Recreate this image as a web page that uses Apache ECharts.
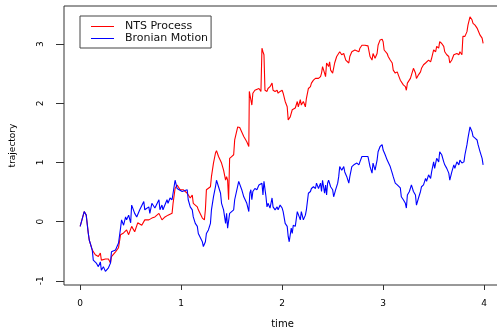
<!DOCTYPE html>
<html>
<head>
<meta charset="utf-8">
<script src="https://cdn.jsdelivr.net/npm/echarts@6/dist/echarts.min.js"></script>
<style>
  html, body { margin: 0; padding: 0; background: #fff; }
  #chart { width: 497px; height: 327px; }
</style>
</head>
<body>
<div id="chart"></div>
<script>
// sample paths, [time, value]
const ntsPoints = [
  [0, -0.08], [0.04, 0.17], [0.06, 0.11], [0.08, -0.19], [0.09, -0.31], [0.12, -0.48],
  [0.15, -0.56], [0.18, -0.59], [0.2, -0.53], [0.21, -0.65], [0.25, -0.63], [0.28, -0.63],
  [0.3, -0.7], [0.31, -0.59], [0.35, -0.51], [0.38, -0.44], [0.4, -0.22], [0.43, -0.19],
  [0.46, -0.14], [0.48, -0.22], [0.51, -0.08], [0.54, -0.17], [0.57, -0.02], [0.61, -0.06],
  [0.64, 0.03], [0.68, 0.03], [0.71, 0.06], [0.74, 0.08], [0.78, 0.14], [0.81, 0.03],
  [0.84, 0.08], [0.87, 0.11], [0.91, 0.14], [0.92, 0.31], [0.94, 0.56], [0.96, 0.62],
  [0.99, 0.54], [1.02, 0.54], [1.06, 0.48], [1.09, 0.4], [1.11, 0.45], [1.12, 0.31],
  [1.16, 0.25], [1.17, 0.2], [1.21, 0.06], [1.23, 0.03], [1.24, 0.2], [1.25, 0.54],
  [1.29, 0.59], [1.3, 0.76], [1.32, 0.99], [1.34, 1.16], [1.35, 1.2], [1.37, 1.1],
  [1.4, 0.99], [1.42, 0.87], [1.44, 0.7], [1.45, 0.76], [1.46, 0.7], [1.47, 0.37],
  [1.48, 1.07], [1.5, 1.1], [1.52, 1.13], [1.53, 1.38], [1.56, 1.6], [1.58, 1.59],
  [1.62, 1.44], [1.65, 1.35], [1.67, 1.27], [1.675, 2.2], [1.68, 2.17], [1.7, 1.97],
  [1.71, 2.17], [1.73, 2.22], [1.77, 2.25], [1.78, 2.28], [1.79, 2.2], [1.8, 2.93],
  [1.81, 2.87], [1.82, 2.82], [1.83, 2.22], [1.85, 2.2], [1.86, 2.25], [1.88, 2.28],
  [1.9, 2.34], [1.91, 2.22], [1.93, 2.2], [1.95, 2.22], [1.96, 2.17], [1.98, 2.2],
  [2.0, 2.22], [2.01, 2.17], [2.03, 2.03], [2.05, 1.94], [2.06, 1.72], [2.08, 1.77],
  [2.1, 1.89], [2.11, 1.86], [2.13, 1.92], [2.15, 2.03], [2.16, 1.94], [2.18, 2.06],
  [2.19, 1.97], [2.21, 2.03], [2.23, 1.94], [2.24, 2.08], [2.26, 2.25], [2.28, 2.28],
  [2.29, 2.34], [2.31, 2.39], [2.33, 2.42], [2.34, 2.45], [2.36, 2.42], [2.38, 2.45],
  [2.39, 2.51], [2.4, 2.62], [2.42, 2.51], [2.43, 2.45], [2.44, 2.68], [2.46, 2.62],
  [2.47, 2.7], [2.48, 2.56], [2.5, 2.51], [2.52, 2.68], [2.54, 2.79], [2.57, 2.87],
  [2.59, 2.82], [2.61, 2.84], [2.63, 2.73], [2.66, 2.68], [2.67, 2.79], [2.69, 2.87],
  [2.72, 2.9], [2.76, 2.87], [2.77, 2.93], [2.79, 2.98], [2.82, 2.98], [2.85, 2.97],
  [2.87, 2.79], [2.89, 2.73], [2.9, 2.84], [2.92, 2.76], [2.94, 2.84], [2.95, 2.98],
  [2.97, 3.07], [2.99, 3.08], [3.0, 3.04], [3.01, 2.9], [3.04, 2.84], [3.05, 2.79],
  [3.07, 2.73], [3.09, 2.68], [3.1, 2.56], [3.12, 2.51], [3.14, 2.53], [3.15, 2.48],
  [3.17, 2.39], [3.18, 2.42], [3.2, 2.31], [3.22, 2.28], [3.23, 2.22], [3.24, 2.34],
  [3.25, 2.31], [3.27, 2.42], [3.28, 2.45], [3.3, 2.59], [3.32, 2.51], [3.33, 2.42],
  [3.35, 2.48], [3.37, 2.53], [3.38, 2.59], [3.4, 2.65], [3.42, 2.68], [3.43, 2.65],
  [3.45, 2.73], [3.47, 2.7], [3.48, 2.76], [3.5, 2.9], [3.52, 2.87], [3.53, 2.96],
  [3.55, 2.93], [3.56, 3.04], [3.58, 3.01], [3.6, 2.96], [3.61, 2.87], [3.63, 2.82],
  [3.65, 2.79], [3.66, 2.68], [3.68, 2.73], [3.7, 2.82], [3.71, 2.79], [3.73, 2.84],
  [3.75, 2.82], [3.76, 2.87], [3.78, 2.82], [3.79, 3.13], [3.81, 3.13], [3.83, 3.21],
  [3.84, 3.32], [3.86, 3.46], [3.88, 3.41], [3.89, 3.35], [3.91, 3.32], [3.93, 3.27],
  [3.94, 3.24], [3.96, 3.15], [3.98, 3.1], [3.99, 3.01]
];

const brownPoints = [
  [0, -0.08], [0.04, 0.17], [0.06, 0.11], [0.08, -0.19], [0.09, -0.31], [0.12, -0.48],
  [0.13, -0.65], [0.16, -0.7], [0.18, -0.76], [0.2, -0.68], [0.21, -0.82], [0.23, -0.76],
  [0.25, -0.84], [0.26, -0.87], [0.28, -0.78], [0.3, -0.7], [0.31, -0.51], [0.35, -0.48],
  [0.36, -0.51], [0.38, -0.36], [0.4, -0.11], [0.41, 0.03], [0.43, -0.06], [0.45, 0.08],
  [0.46, 0.03], [0.48, 0.11], [0.5, -0.02], [0.51, 0.28], [0.54, 0.14], [0.56, 0.08],
  [0.59, 0.2], [0.63, 0.34], [0.64, 0.2], [0.68, 0.25], [0.69, 0.14], [0.71, 0.31],
  [0.74, 0.23], [0.78, 0.37], [0.79, 0.2], [0.81, 0.28], [0.82, 0.2], [0.86, 0.37],
  [0.87, 0.31], [0.89, 0.4], [0.91, 0.37], [0.94, 0.7], [0.96, 0.56], [0.98, 0.54],
  [1.01, 0.51], [1.02, 0.48], [1.06, 0.54], [1.07, 0.37], [1.09, 0.25], [1.11, 0.2],
  [1.12, 0.08], [1.14, -0.03], [1.16, -0.08], [1.17, -0.2], [1.21, -0.34], [1.22, -0.42],
  [1.24, -0.34], [1.25, -0.2], [1.27, -0.14], [1.29, -0.03], [1.3, 0.2], [1.32, 0.42],
  [1.34, 0.59], [1.35, 0.7], [1.37, 0.59], [1.39, 0.48], [1.4, 0.31], [1.42, 0.2],
  [1.44, -0.03], [1.45, 0.14], [1.46, -0.11], [1.48, 0.14], [1.5, 0.17], [1.52, 0.2],
  [1.53, 0.37], [1.57, 0.68], [1.58, 0.65], [1.6, 0.54], [1.62, 0.42], [1.65, 0.31],
  [1.67, 0.17], [1.68, 0.48], [1.69, 0.54], [1.7, 0.37], [1.71, 0.51], [1.73, 0.56],
  [1.75, 0.54], [1.77, 0.62], [1.78, 0.59], [1.8, 0.65], [1.81, 0.45], [1.82, 0.68],
  [1.84, 0.42], [1.85, 0.25], [1.86, 0.31], [1.88, 0.23], [1.9, 0.4], [1.91, 0.25],
  [1.93, 0.2], [1.95, 0.25], [1.96, 0.2], [1.98, 0.28], [2.0, 0.23], [2.01, 0.17],
  [2.03, -0.03], [2.05, -0.08], [2.06, -0.25], [2.07, -0.34], [2.09, -0.11], [2.1, -0.2],
  [2.11, -0.06], [2.13, -0.08], [2.15, 0.17], [2.16, 0.14], [2.18, 0.03], [2.19, 0.17],
  [2.21, 0.03], [2.23, 0.11], [2.24, 0.2], [2.26, 0.48], [2.28, 0.51], [2.29, 0.56],
  [2.31, 0.59], [2.33, 0.56], [2.34, 0.65], [2.36, 0.56], [2.38, 0.65], [2.39, 0.51],
  [2.4, 0.7], [2.42, 0.48], [2.43, 0.62], [2.44, 0.45], [2.45, 0.65], [2.46, 0.7],
  [2.48, 0.59], [2.5, 0.54], [2.51, 0.42], [2.53, 0.54], [2.55, 0.65], [2.56, 0.76],
  [2.57, 0.93], [2.59, 0.87], [2.61, 0.93], [2.62, 0.84], [2.64, 0.76], [2.66, 0.65],
  [2.67, 0.76], [2.69, 0.93], [2.71, 0.96], [2.72, 0.93], [2.74, 0.99], [2.76, 0.96],
  [2.77, 1.01], [2.79, 1.1], [2.8, 1.13], [2.82, 1.1], [2.85, 1.1], [2.87, 0.93],
  [2.89, 0.82], [2.9, 0.99], [2.92, 0.87], [2.94, 1.04], [2.95, 1.18], [2.97, 1.27],
  [2.99, 1.3], [3.0, 1.21], [3.02, 1.13], [3.04, 1.04], [3.05, 1.01], [3.07, 0.93],
  [3.09, 0.82], [3.1, 0.76], [3.12, 0.65], [3.14, 0.62], [3.15, 0.65], [3.17, 0.57],
  [3.18, 0.42], [3.2, 0.37], [3.22, 0.31], [3.23, 0.23], [3.24, 0.45], [3.26, 0.51],
  [3.28, 0.62], [3.3, 0.51], [3.32, 0.45], [3.33, 0.28], [3.35, 0.4], [3.37, 0.51],
  [3.38, 0.59], [3.4, 0.62], [3.42, 0.73], [3.43, 0.68], [3.45, 0.79], [3.47, 0.73],
  [3.48, 0.84], [3.5, 1.01], [3.51, 0.9], [3.53, 1.07], [3.55, 1.01], [3.56, 1.18],
  [3.58, 1.13], [3.6, 1.01], [3.61, 0.96], [3.63, 0.9], [3.65, 0.82], [3.66, 0.7],
  [3.68, 0.84], [3.7, 0.96], [3.71, 0.9], [3.73, 1.01], [3.75, 0.96], [3.76, 1.04],
  [3.78, 0.99], [3.8, 1.01], [3.81, 1.13], [3.83, 1.3], [3.84, 1.41], [3.86, 1.6],
  [3.88, 1.52], [3.89, 1.44], [3.91, 1.41], [3.93, 1.38], [3.94, 1.3], [3.96, 1.18],
  [3.98, 1.07], [3.99, 0.96]
];

const seriesNames = ['NTS Process', 'Bronian Motion'];
const xTicks = [0, 1, 2, 3, 4];
const yTicks = [-1, 0, 1, 2, 3];

const chart = echarts.init(document.getElementById('chart'), null, { renderer: 'canvas' });

const labelFont = { fontFamily: 'DejaVu Sans', fontSize: 9, color: '#000' };

const option = {
  animation: false,
  backgroundColor: '#fff',
  grid: {
    left: 64, top: 6, right: -4, bottom: 42,
    outerBoundsMode: 'none',
    containLabel: false,
    show: true, borderColor: '#333', borderWidth: 1, backgroundColor: 'transparent'
  },
  legend: {
    orient: 'vertical',
    left: 80, top: 16,
    padding: [5, 3, 4, 11],
    icon: 'rect',
    itemWidth: 23, itemHeight: 1, itemGap: 1,
    borderColor: '#444', borderWidth: 1, borderRadius: 0,
    textStyle: { fontFamily: 'DejaVu Sans', fontSize: 11, color: '#111', padding: [0, 0, 0, 6] },
    data: seriesNames
  },
  xAxis: {
    type: 'value',
    min: -0.16, max: 4.167,
    name: 'time', nameLocation: 'middle', nameGap: 34,
    nameTextStyle: { fontFamily: 'DejaVu Sans', fontSize: 10, color: '#000' },
    axisLine: { show: false, onZero: false },
    axisTick: { show: true, customValues: xTicks, length: 5, lineStyle: { color: '#333' } },
    axisLabel: { customValues: xTicks, margin: 14, ...labelFont },
    splitLine: { show: false }
  },
  yAxis: {
    type: 'value',
    min: -1.07, max: 3.643,
    name: 'trajectory', nameLocation: 'middle', nameGap: 47,
    nameTextStyle: { fontFamily: 'DejaVu Sans', fontSize: 9, color: '#000' },
    axisLine: { show: false, onZero: false },
    axisTick: { show: true, customValues: yTicks, length: 8, lineStyle: { color: '#333' } },
    axisLabel: { customValues: yTicks, rotate: 90, margin: 19, ...labelFont },
    splitLine: { show: false }
  },
  series: [
    {
      name: seriesNames[0],
      type: 'line',
      symbol: 'none',
      data: ntsPoints,
      lineStyle: { color: '#ff0000', width: 1.1 },
      itemStyle: { color: '#ff0000' }
    },
    {
      name: seriesNames[1],
      type: 'line',
      symbol: 'none',
      data: brownPoints,
      lineStyle: { color: '#0000ff', width: 1.1 },
      itemStyle: { color: '#0000ff' }
    }
  ]
};

chart.setOption(option);
</script>
</body>
</html>
